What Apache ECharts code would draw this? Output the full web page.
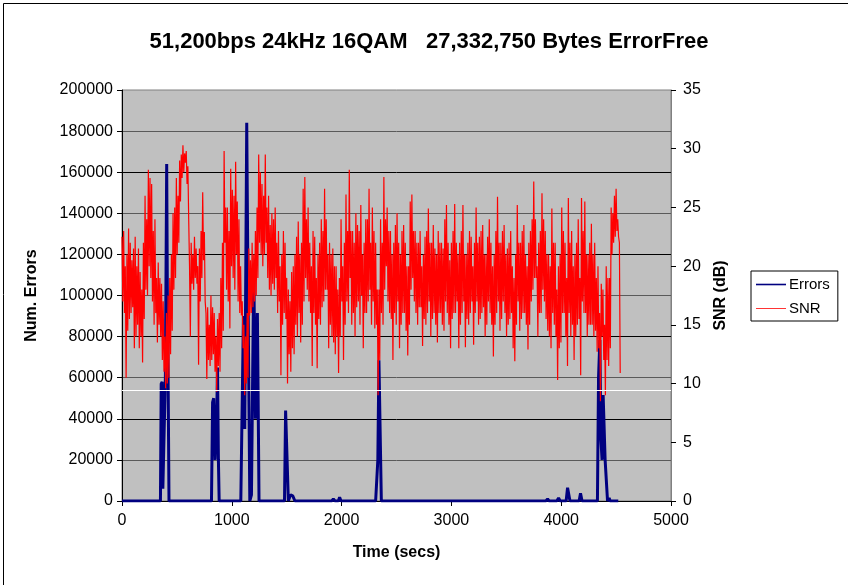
<!DOCTYPE html>
<html>
<head>
<meta charset="utf-8">
<script src="https://cdn.jsdelivr.net/npm/echarts@6/dist/echarts.min.js"></script>
<style>
html,body{margin:0;padding:0;background:#fff;}
#chart{width:848px;height:585px;}
</style>
</head>
<body>
<div id="chart"></div>
<script>
// ---- data ----
const titleText = '51,200bps 24kHz 16QAM   27,332,750 Bytes ErrorFree';
const xTicks = { min: 0, max: 5000, interval: 1000 };
const leftTicks = { min: 0, max: 200000, interval: 20000 };
const rightTicks = { min: 0, max: 35, interval: 5 };
const thresholdErrors = 54000;

// Errors (time in seconds, number of errors)
const errTimes = [0, 350, 357, 366, 372, 385, 395, 407, 414, 420, 428,
  815, 825, 835, 848, 862, 870, 878, 885,
  1082, 1106, 1118, 1136, 1148, 1164, 1179, 1200, 1215, 1233, 1248,
  1480, 1490, 1505, 1515, 1535, 1555, 1575,
  1910, 1925, 1940, 1970, 1982, 1995,
  2310, 2330, 2340, 2350, 2362,
  3860, 3876, 3890, 3960, 3976, 3990, 4045, 4058, 4068, 4080, 4163, 4176, 4190,
  4330, 4340, 4352, 4362, 4372, 4382, 4391, 4400, 4422, 4430, 4437, 4445, 4520];
const errValues = [0, 0, 57000, 58000, 6000, 6000, 60000, 164000, 92000, 60000, 0,
  0, 48000, 50000, 20000, 40000, 65000, 20000, 0,
  0, 90000, 35000, 184000, 100000, 0, 3000, 113500, 40000, 91500, 0,
  0, 44000, 44000, 0, 3000, 2500, 0,
  0, 1000, 0, 0, 1800, 0,
  0, 20000, 68500, 68000, 0,
  0, 1000, 0, 0, 1500, 0, 0, 6500, 6000, 0, 0, 3700, 0,
  0, 60000, 78300, 30000, 20000, 51600, 51000, 20000, 0, 0, 1500, 0, 0];

// SNR (dB), one reading every snrStep seconds starting at 0
const snrStep = 7.5;
const snrValues = [
  22.5,17, 23,16, 20,10.5, 21,14.5, 23.2,15.5, 22,16, 20.5,16.5, 21.5,13, 22.5,14, 20,15, 21.5,13, 19.5,14, 18,11.8,
  22,15.5, 26,18, 24,17.5, 28.2,20, 27.5,19, 27,17, 23,15, 24,16,
  19,13.5, 20.3,15, 19,14,
  18.5,12, 17,11, 14,9.6, 16,10, 17.5,10.5, 19,12.5,
  21,14.5, 24.5,18, 25,19, 27.5,21, 26,22,
  29,25.5, 29.5,27.5, 30.3,28, 29.6,28.8, 29.8,27, 28.5,24,
  20,14,
  22,18.5, 21,18, 22.5,19, 21.5,18.5, 20,11.6, 21.5,17, 23,19, 26.3,20.5,
  22.9,17, 16,10.4,
  16.5,12, 15,11.5, 17.5,12, 16.5,12.5, 16,11, 14,9.3, 15.5,11.5, 16,11,
  19,13, 22,14.5, 29.8,22,
  25,18, 25,17, 23,14.7, 28.3,20, 26.5,19, 26,18, 28.9,21, 25.5,17, 24,16,
  20,15.8, 17,13, 15,9, 14,10, 16,10.5,
  21.5,15.8, 20.5,16, 22,16.5, 21,17, 23,17.5,
  25,19, 29.5,22, 28,21, 27,20, 26,21, 29.5,22,
  25,19, 26,18, 23.5,17.5, 24.5,18.5, 24,18, 25,19, 22,16, 23,17, 20,10.7, 21,15, 23,16, 22,15.5, 19,10,
  18,12.5, 17,11, 19.5,13,
  20,12.5, 21,15, 22.5,14, 23.8,16, 21,13.5, 22,15,
  26.6,17, 27.6,19,
  24,18, 25,17, 22,16, 20,11.5, 23,16, 22.5,15, 19,11.3, 21,15.5,
  22,15, 24,16.5, 23,17, 26.6,18, 24,18, 21,13,
  22,15, 21,14, 21.5,13.5, 20,12.5, 20,14, 18,10.9,
  19,14, 24,17, 20,12, 22,15, 26.1,17, 23,16, 28.2,19, 23,15,
  23,16, 22,14, 24.5,16.5, 23.5,17, 23,15, 25.2,17.5, 21,13, 22,16, 24,16, 24,17, 26.6,18, 22,15,
  25,17, 23,14.7, 22,15, 18,9, 18,12,
  24,16, 22,15, 27.6,18, 24,20,
  25,17, 23,16, 23,15.5, 21,12, 22,16, 23.5,15, 24.5,17, 22,13, 21,15, 23,16, 23.5,16, 22,14.5, 20,12.4,
  20,15, 25.5,18, 26.1,19, 23,17,
  23,16, 22,15, 22,16.5, 23,16.5, 20,13.2, 21,15.5, 22.5,15, 23,16, 24.9,17, 22,14, 22,15.5, 23.5,16,
  21.5,15, 21,13.5, 23,16, 22,16, 22,15, 21.5,14.5, 24,17, 25.2,16, 22,15, 20.5,13, 22,15.5, 23,16,
  25.3,16, 22,17, 21,13, 22,15, 23,16, 25.2,17, 21,13.1, 21,15.5, 22,15, 23,16, 22.5,17, 20,13.3,
  22,16, 25,17, 22,15, 22.5,15.5, 23,16, 23.5,16.5, 21,14, 21,15, 22.5,17, 24,16, 22,15, 20,12.3,
  21,15, 23,16, 25.9,17, 22,14.5, 22,15.5, 23,17, 23.5,16, 21,14, 21.5,15, 22,15.5, 23,16, 20,13,
  19,11.9, 21,15, 25.2,17, 22,14.5, 22,15.5, 23,16, 23.5,16, 21,15, 20,12.9, 22,15, 23,17, 24,18,
  27.2,19, 24,19,
  20,14, 22,16, 23,16, 26.2,18, 24,17, 23,15.5, 21,14.5,
  21,14, 20,13, 24.9,16, 22,15, 22,14, 18,10.3, 20,13,
  21,13.5, 25,16, 23,16, 22,14, 19,11.5, 25.8,16, 22,14, 23,15, 20,12,
  21,14, 22,15, 24,15.5, 19,10.7, 25.8,17, 23,16, 25.5,16, 21,14, 21,15, 22,15,
  23.6,15, 21,14, 22,14.5, 19,12.7, 20,13, 16,8.5,
  18.5,14, 18,12, 15,9, 20,12, 19,11.5, 19,13,
  25,21, 24.5,22, 26,22.5, 26.6,23, 24,22.5, 22,10.9
];

// ---- build ----
const errData = errTimes.map((t, i) => [t, errValues[i]]);
const snrData = snrValues.map((v, i) => [i * snrStep, v]);
const plain = (v) => String(v);

const FONT = 'Liberation Sans, Arial, sans-serif';
const chart = echarts.init(document.getElementById('chart'), null, { renderer: 'canvas' });
chart.setOption({
  animation: false,
  backgroundColor: '#ffffff',
  title: {
    text: titleText,
    left: 424, top: 26, textAlign: 'center',
    textStyle: { fontFamily: FONT, fontWeight: 'bold', fontSize: 22, color: '#000' }
  },
  graphic: [{
    type: 'rect', left: 1, top: 1, silent: true,
    shape: { width: 845, height: 582 },
    style: { fill: null, stroke: '#000', lineWidth: 1 }
  }],
  legend: {
    orient: 'vertical', left: 751, top: 271,
    backgroundColor: '#fff', borderColor: '#000', borderWidth: 1,
    padding: [6, 8, 5, 5], itemGap: 9, itemWidth: 30, itemHeight: 10,
    textStyle: { fontFamily: FONT, fontSize: 15, color: '#000', padding: [0, 0, 0, -2] },
    data: [
      { name: 'Errors', icon: 'path://M0,4.2L30,4.2L30,5.8L0,5.8Z', itemStyle: { color: '#000080' } },
      { name: 'SNR', icon: 'path://M0,4.6L30,4.6L30,5.4L0,5.4Z', itemStyle: { color: '#ff0000' } }
    ]
  },
  grid: {
    left: 122, right: 177, top: 90, bottom: 84,
    show: true, backgroundColor: '#c0c0c0', borderColor: '#808080', borderWidth: 1
  },
  xAxis: {
    type: 'value', min: xTicks.min, max: xTicks.max, interval: xTicks.interval,
    name: 'Time (secs)', nameLocation: 'middle', nameGap: 44,
    nameTextStyle: { fontFamily: FONT, fontWeight: 'bold', fontSize: 16, color: '#000' },
    axisLine: { lineStyle: { color: '#000', width: 1 } },
    axisTick: { show: true, inside: false, length: 5, lineStyle: { color: '#000' } },
    axisLabel: { fontFamily: FONT, fontSize: 16, color: '#000', margin: 12, formatter: plain },
    splitLine: { show: false }
  },
  yAxis: [{
    type: 'value', min: leftTicks.min, max: leftTicks.max, interval: leftTicks.interval,
    name: 'Num. Errors', nameLocation: 'middle', nameGap: 82,
    nameTextStyle: { fontFamily: FONT, fontWeight: 'bold', fontSize: 16, color: '#000' },
    axisLine: { show: true, lineStyle: { color: '#000', width: 1 } },
    axisTick: { show: true, inside: false, length: 5, lineStyle: { color: '#000' } },
    axisLabel: { fontFamily: FONT, fontSize: 16, color: '#000', margin: 9, formatter: plain },
    splitLine: { show: true, showMinLine: true, showMaxLine: false,
      lineStyle: { color: ['#000000', '#5a5a5a'], width: 1 } }
  }, {
    type: 'value', min: rightTicks.min, max: rightTicks.max, interval: rightTicks.interval,
    position: 'right',
    name: 'SNR (dB)', nameLocation: 'middle', nameGap: 42,
    nameTextStyle: { fontFamily: FONT, fontWeight: 'bold', fontSize: 16, color: '#000' },
    axisLine: { show: true, lineStyle: { color: '#808080', width: 1 } },
    axisTick: { show: true, inside: false, length: 5, lineStyle: { color: '#000' } },
    axisLabel: { fontFamily: FONT, fontSize: 16, color: '#000', margin: 12, formatter: plain },
    splitLine: { show: false }
  }],
  series: [{
    name: 'Errors', type: 'line', xAxisIndex: 0, yAxisIndex: 0,
    data: errData, showSymbol: false, symbol: 'none',
    lineStyle: { color: '#000080', width: 3 }, itemStyle: { color: '#000080' },
    markLine: {
      silent: true, symbol: ['none', 'none'], label: { show: false },
      lineStyle: { color: '#ffffff', width: 1, type: 'solid' },
      data: [{ yAxis: thresholdErrors }]
    }
  }, {
    name: 'SNR', type: 'line', xAxisIndex: 0, yAxisIndex: 1,
    data: snrData, showSymbol: false, symbol: 'none',
    lineStyle: { color: '#ff0000', width: 1.2 }, itemStyle: { color: '#ff0000' }
  }]
});
</script>
</body>
</html>
